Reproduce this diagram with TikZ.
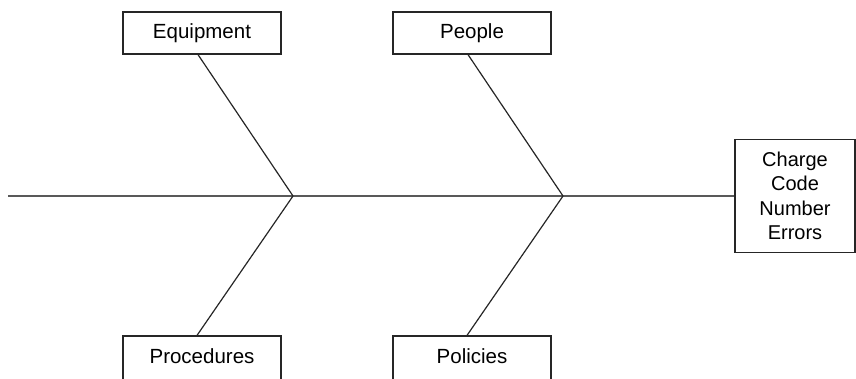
\documentclass[tikz,border=0pt]{standalone}
\usepackage{fontspec}
\setmainfont{Liberation Sans}
\begin{document}
\begin{tikzpicture}[x=1pt,y=-1pt,
  causebox/.style={draw=black!85, line width=1.2pt, minimum width=158pt,
    inner sep=0pt, font=\fontsize{20.5}{24}\selectfont},
  topbox/.style={causebox, minimum height=42pt},
  lowbox/.style={causebox, text height=27pt, text depth=20pt, anchor=base},
  effectbox/.style={draw=black!85, line width=1.2pt, minimum width=120pt, minimum height=113pt,
    inner sep=0pt, align=center, font=\fontsize{20}{24.5}\selectfont},
  bone/.style={draw=black!85, line width=1.2pt},
  spine/.style={draw=black!65, line width=1.5pt}]
\useasboundingbox (0,0) rectangle (856,378);
\begin{scope}
\clip (0,0) rectangle (856,378);
% cause categories
\node[topbox] (equip) at (202,33) {Equipment};
\node[topbox] (people) at (472,33) {People};
\node[lowbox] (proc) at (202,363) {Procedures};
\node[lowbox] (policy) at (472,363) {Policies};
% effect
\node[effectbox] (effect) at (795,196) {Charge\\Code\\Number\\Errors};
% spine
\coordinate (tail) at (8,196);
\coordinate (j1) at (293,196);
\coordinate (j2) at (563,196);
\draw[spine] (tail) -- (j1) -- (j2) -- (effect.west);
% bones
\draw[bone] ([xshift=-4pt]equip.south) -- (j1);
\draw[bone] ([xshift=-5pt]proc.north) -- (j1);
\draw[bone] ([xshift=-4pt]people.south) -- (j2);
\draw[bone] ([xshift=-5pt]policy.north) -- (j2);
\end{scope}
\end{tikzpicture}
\end{document}
